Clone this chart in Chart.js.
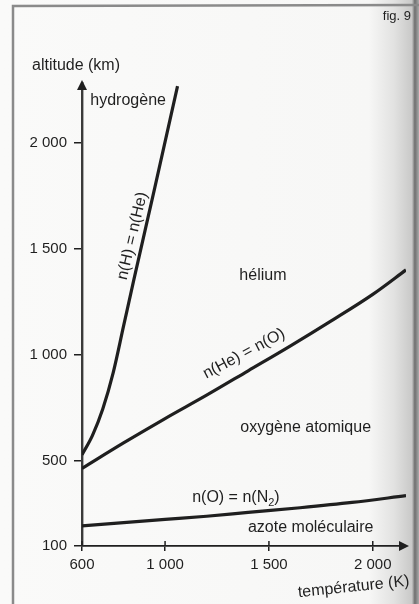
<!DOCTYPE html>
<html>
<head>
<meta charset="utf-8">
<script src="https://cdn.jsdelivr.net/npm/chart.js@4.4.1/dist/chart.umd.min.js"></script>
<style>
  html, body { margin: 0; padding: 0; }
  body {
    width: 419px; height: 604px; overflow: hidden;
    background: linear-gradient(to right, #fafaf9 0%, #f7f7f6 88%, #e2e2e1 94%, #c9c9c8 98.3%, #6f6f6f 99%, #aaaaaa 100%);
  }
  canvas { display: block; }
</style>
</head>
<body>
<canvas id="fig9" width="419" height="604"></canvas>
<script>
// fig. 9 - composition boundaries vs exospheric temperature
const xTicks = [600, 1000, 1500, 2000];
const yTicks = [100, 500, 1000, 1500, 2000];

// n(H) = n(He)
const hHeTemp = [600, 650, 700, 750, 800, 850, 950, 1060];
const hHeAlt  = [530, 620, 745, 915, 1135, 1355, 1785, 2265];

// n(He) = n(O)
const heOTemp = [600, 800, 1000, 1200, 1400, 1600, 1800, 2000, 2160];
const heOAlt  = [465, 585, 700, 810, 925, 1040, 1160, 1285, 1400];

// n(O) = n(N2)
const oN2Temp = [600, 1000, 1200, 1400, 1650, 1900, 2160];
const oN2Alt  = [195, 225, 240, 258, 280, 305, 337];

const INK = "#1f1f1f";
const FONT = '"Liberation Sans", Arial, sans-serif';

function pts(xs, ys) {
    return xs.map((v, i) => ({ x: v, y: ys[i] }));
}

function fmt(v) {
    return v >= 1000 ? Math.floor(v / 1000) + " " + String(v % 1000).padStart(3, "0") : String(v);
}

const fig9Plugin = {
    id: "fig9Extras",
    beforeDraw(chart) {
        const ctx = chart.ctx;
        // page frame from the scan
        ctx.save();
        ctx.strokeStyle = "#8a8a8a";
        ctx.lineWidth = 2.5;
        ctx.beginPath();
        ctx.moveTo(13, 604);
        ctx.lineTo(13, 6);
        ctx.lineTo(419, 5);
        ctx.stroke();
        ctx.restore();
    },
    afterDraw(chart) {
        const ctx = chart.ctx;
        const a = chart.chartArea;
        const xs = chart.scales.x;
        const ys = chart.scales.y;

        ctx.save();
        ctx.fillStyle = INK;
        ctx.strokeStyle = INK;

        // arrow heads
        ctx.beginPath();
        ctx.moveTo(a.left, a.top - 3);
        ctx.lineTo(a.left - 5, a.top + 7);
        ctx.lineTo(a.left + 5, a.top + 7);
        ctx.closePath();
        ctx.fill();
        ctx.beginPath();
        ctx.moveTo(a.right + 3, a.bottom);
        ctx.lineTo(a.right - 7, a.bottom - 5);
        ctx.lineTo(a.right - 7, a.bottom + 5);
        ctx.closePath();
        ctx.fill();

        // x ticks cross the axis
        ctx.lineWidth = 1.5;
        xTicks.forEach(t => {
            const px = xs.getPixelForValue(t);
            ctx.beginPath();
            ctx.moveTo(px, a.bottom - 5);
            ctx.lineTo(px, a.bottom);
            ctx.stroke();
        });

        function put(text, tx, ty, opt) {
            opt = opt || {};
            ctx.save();
            ctx.translate(xs.getPixelForValue(tx), ys.getPixelForValue(ty));
            if (opt.angle) ctx.rotate(opt.angle * Math.PI / 180);
            ctx.font = (opt.size || 16) + "px " + FONT;
            ctx.textAlign = opt.align || "center";
            ctx.textBaseline = "middle";
            ctx.fillText(text, 0, 0);
            ctx.restore();
        }

        put("hydrogène", 640, 2195, { align: "left" });
        put("hélium", 1471, 1371);
        put("oxygène atomique", 1677, 658);
        put("azote moléculaire", 1701, 185);
        put("n(He) = n(O)", 1380, 1005, { angle: -28 });
        put("n(H) = n(He)", 843, 1560, { angle: -76.8 });

        // n(O) = n(N2) with a subscript
        ctx.font = "16px " + FONT;
        const p1 = "n(O) = n(N", p3 = ")";
        const w1 = ctx.measureText(p1).width;
        ctx.font = "11px " + FONT;
        const w2 = ctx.measureText("2").width;
        ctx.font = "16px " + FONT;
        const w3 = ctx.measureText(p3).width;
        let cx = xs.getPixelForValue(1341) - (w1 + w2 + w3) / 2;
        const cy = ys.getPixelForValue(327);
        ctx.textAlign = "left";
        ctx.textBaseline = "middle";
        ctx.fillText(p1, cx, cy);
        ctx.font = "11px " + FONT;
        ctx.fillText("2", cx + w1, cy + 5);
        ctx.font = "16px " + FONT;
        ctx.fillText(p3, cx + w1 + w2, cy);

        // axis titles
        ctx.font = "16px " + FONT;
        ctx.textAlign = "center";
        ctx.fillText("altitude (km)", a.left - 6, a.top - 17);
        ctx.save();
        ctx.translate(xs.getPixelForValue(1908), a.bottom + 41);
        ctx.rotate(-6 * Math.PI / 180);
        ctx.fillText("température (K)", 0, 0);
        ctx.restore();

        ctx.font = "13px " + FONT;
        ctx.textAlign = "right";
        ctx.fillText("fig. 9", 411, 16);
        ctx.restore();
    }
};

const curve = (data) => ({
    data: data,
    showLine: true,
    borderColor: INK,
    borderWidth: 3.2,
    pointRadius: 0,
    cubicInterpolationMode: "monotone",
    fill: false
});

new Chart(document.getElementById("fig9"), {
    type: "scatter",
    data: {
        datasets: [
            curve(pts(hHeTemp, hHeAlt)),
            curve(pts(heOTemp, heOAlt)),
            curve(pts(oN2Temp, oN2Alt))
        ]
    },
    options: {
        responsive: false,
        animation: false,
        layout: { padding: { top: 83, right: 13, left: 0, bottom: 0 } },
        plugins: { legend: { display: false }, tooltip: { enabled: false } },
        scales: {
            x: {
                type: "linear",
                min: 600,
                max: 2160,
                afterBuildTicks(scale) { scale.ticks = xTicks.map(v => ({ value: v })); },
                afterFit(scale) { scale.height = 58; },
                border: { display: true, color: INK, width: 1.8 },
                grid: { display: true, drawOnChartArea: false, tickLength: 5, color: INK, lineWidth: 1.5 },
                ticks: {
                    color: INK,
                    padding: 5,
                    maxRotation: 0,
                    font: { family: FONT, size: 15 },
                    callback: v => fmt(v)
                }
            },
            y: {
                type: "linear",
                min: 100,
                max: 2280,
                afterBuildTicks(scale) { scale.ticks = yTicks.map(v => ({ value: v })); },
                afterFit(scale) { scale.width = 82; },
                border: { display: true, color: "#3a3a3a", width: 2.4 },
                grid: { display: true, drawOnChartArea: false, tickLength: 8, color: INK, lineWidth: 1.5 },
                ticks: {
                    color: INK,
                    padding: 7,
                    font: { family: FONT, size: 15 },
                    callback: v => fmt(v)
                }
            }
        }
    },
    plugins: [fig9Plugin]
});
</script>
</body>
</html>
